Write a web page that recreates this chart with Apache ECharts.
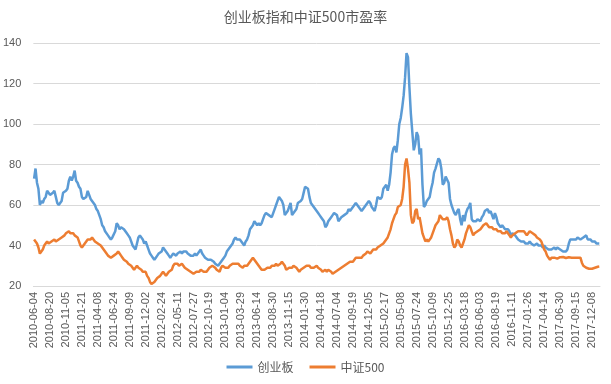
<!DOCTYPE html>
<html><head><meta charset="utf-8">
<script src="https://cdn.jsdelivr.net/npm/echarts@6/dist/echarts.min.js"></script>
<style>html,body{margin:0;padding:0;background:#fff}#c{width:611px;height:384px}</style>
</head><body><div id="c"></div>
<script>
var titleText = '创业板指和中证500市盈率';
var seriesNames = ['创业板', '中证500'];
var tickLabels = ['2010-06-04','2010-08-20','2010-11-05','2011-01-21','2011-04-08','2011-06-24','2011-09-09','2011-12-02','2012-02-24','2012-05-11','2012-07-27','2012-10-19','2013-01-04','2013-03-29','2013-06-14','2013-08-30','2013-11-15','2014-01-30','2014-04-18','2014-07-04','2014-09-19','2014-12-05','2015-02-17','2015-05-08','2015-07-24','2015-10-09','2015-12-25','2016-03-18','2016-06-03','2016-08-19','2016-11-11','2017-01-26','2017-04-14','2017-06-30','2017-09-15','2017-12-08'];
var cybValues = [
73,78,71,68,60,62,61,63,64,67,
66,65,65,66,67,64,61,60,61,62,
66,66,67,68,72,74,72,74,77,72,
71,69,68,64,63,63,64,67,65,63,
62,62,60,58,57,55,53,50,49,47,
47,45,44,43,44,44,47,51,50,48,
49,49,48,47,46,45,44,42,40,39,
38,41,44,45,45,43,41,42,40,38,
36,35,34,33,34,35,36,36,37,39,
38,37,36,35,34,35,36,36,35,36,
36,37,36,37,37,37,36,36,35,35,
35,36,35,35,37,38,36,35,34,34,
33,33,33,33,32,31,31,30,30,32,
33,34,35,37,38,39,40,41,43,44,
43,43,43,42,41,40,42,43,45,48,
48,50,52,51,50,51,50,51,53,55,
56,56,55,55,54,56,58,60,62,64,
63,62,60,55,56,57,59,61,55,56,
57,58,61,61,62,63,66,69,69,68,
64,61,60,59,58,57,56,55,54,53,
52,49,50,52,53,54,55,56,56,55,
52,53,54,54,55,55,56,58,57,58,
59,60,61,60,59,58,57,58,59,59,
61,62,61,59,58,57,60,64,64,63,
64,68,69,70,67,70,76,85,88,89,
86,92,100,103,108,114,123,135,133,118,
105,96,87,90,96,94,85,88,70,59,
60,62,63,64,68,71,76,78,78,83,
82,78,70,71,74,74,71,63,60,58,
56,55,57,58,53,50,55,52,56,58,
59,61,53,52,52,52,53,53,52,54,
55,57,57,58,56,57,55,53,56,54,
51,50,49,50,49,48,48,48,47,45,
46,46,45,44,43,43,42,42,42,41,
41,41,42,41,41,40,40,41,40,40,
40,39,40,39,39,38,38,38,38,39,
38,39,39,38,38,37,37,37,38,41,
43,43,43,43,43,44,44,43,43,44,
44,45,43,43,43,42,42,42,41,41,41
];
var zz500Values = [
43,42,41,39,36,37,38,40,41,42,
41,41,42,42,43,42,42,43,43,44,
44,45,46,46,47,46,46,46,45,45,
44,42,40,39,39,41,42,43,43,43,
44,43,42,42,41,41,40,39,38,38,
36,35,35,34,34,35,35,36,37,36,
35,34,33,33,32,31,31,30,29,28,
28,30,29,29,28,27,27,27,25,24,
22,21,21,22,23,24,24,25,26,27,
26,25,26,27,27,28,30,31,31,31,
30,30,31,30,29,29,28,28,27,27,
26,26,27,27,27,28,28,27,27,27,
28,29,29,30,30,29,28,28,27,29,
30,30,29,29,29,30,30,31,31,31,
31,31,30,30,29,30,30,30,31,32,
33,34,33,32,31,30,29,28,28,28,
28,29,29,29,30,30,30,31,30,30,
31,32,31,30,28,28,29,29,29,30,
30,29,28,27,28,28,29,29,30,30,
30,29,29,29,29,30,29,29,28,27,
27,28,27,28,28,27,26,26,27,27,
28,28,29,29,30,30,31,31,32,32,
32,33,34,34,34,34,34,35,35,36,
37,37,36,37,38,38,38,39,39,40,
40,41,42,43,44,46,48,51,53,55,
56,59,59,60,63,69,80,83,78,71,
55,51,52,57,58,53,54,50,46,44,
42,43,42,43,44,46,48,50,51,52,
55,54,53,53,53,54,52,48,45,41,
39,40,43,42,40,39,41,43,46,48,
50,49,47,45,46,46,47,47,48,48,
50,50,51,50,49,49,49,48,48,48,
47,47,47,46,46,46,47,46,45,44,
45,45,46,46,47,47,47,47,47,46,
45,46,47,47,46,46,45,44,44,43,
42,40,38,37,35,34,33,34,34,34,
34,33.5,34,34.2,33.8,34.3,34,33.8,34,34.2,
33.8,34,34.3,34,34.2,34,33.8,34,31.5,30,
29.5,29,28.8,28.5,28.3,28.5,28.8,29,29.3,29.5,29.6
];

// categories: weekly dates built from the tick labels (11 weeks per tick)
function addDays(s, d) {
  var p = s.split('-');
  var dt = new Date(Date.UTC(+p[0], +p[1] - 1, +p[2] + d));
  var m = dt.getUTCMonth() + 1, dd = dt.getUTCDate();
  return dt.getUTCFullYear() + '-' + (m < 10 ? '0' : '') + m + '-' + (dd < 10 ? '0' : '') + dd;
}
var categories = [];
for (var t = 0; t < tickLabels.length; t++) {
  for (var k = 0; k < 11; k++) categories.push(k === 0 ? tickLabels[t] : addDays(tickLabels[t], 7 * k));
}
categories = categories.slice(0, cybValues.length);

var chart = echarts.init(document.getElementById('c'), null, {renderer: 'canvas'});
var fontCJK = '"Noto Sans CJK SC", "Microsoft YaHei", sans-serif';
var fontNum = '"Liberation Sans", Arial, sans-serif';
chart.setOption({
  animation: false,
  backgroundColor: '#ffffff',
  title: {
    text: titleText, left: 'center', top: 5,
    textStyle: {fontFamily: fontCJK, fontSize: 14, fontWeight: 'normal', color: '#595959'}
  },
  legend: {
    data: seriesNames, bottom: 6, left: 'center',
    icon: 'rect', itemWidth: 26, itemHeight: 3, itemGap: 16,
    textStyle: {fontFamily: fontCJK, fontSize: 12, color: '#595959'}
  },
  grid: {left: 33, right: 11, top: 43, bottom: 98, containLabel: false},
  xAxis: {
    type: 'category', data: categories, boundaryGap: true,
    axisLine: {lineStyle: {color: '#D9D9D9', width: 1}},
    axisTick: {show: false},
    axisLabel: {interval: 10, rotate: 90, margin: 6, fontFamily: fontNum, fontSize: 11, color: '#595959'}
  },
  yAxis: {
    type: 'value', min: 20, max: 140, interval: 20,
    axisLine: {show: false}, axisTick: {show: false},
    splitLine: {lineStyle: {color: '#D9D9D9', width: 1}},
    axisLabel: {margin: 12, fontFamily: fontNum, fontSize: 11, color: '#595959'}
  },
  series: [
    {name: seriesNames[0], type: 'line', data: cybValues, showSymbol: false, symbol: 'none',
     lineStyle: {color: '#5B9BD5', width: 2.5}, itemStyle: {color: '#5B9BD5'}},
    {name: seriesNames[1], type: 'line', data: zz500Values, showSymbol: false, symbol: 'none',
     lineStyle: {color: '#ED7D31', width: 2.5}, itemStyle: {color: '#ED7D31'}}
  ]
});
</script>
</body></html>
